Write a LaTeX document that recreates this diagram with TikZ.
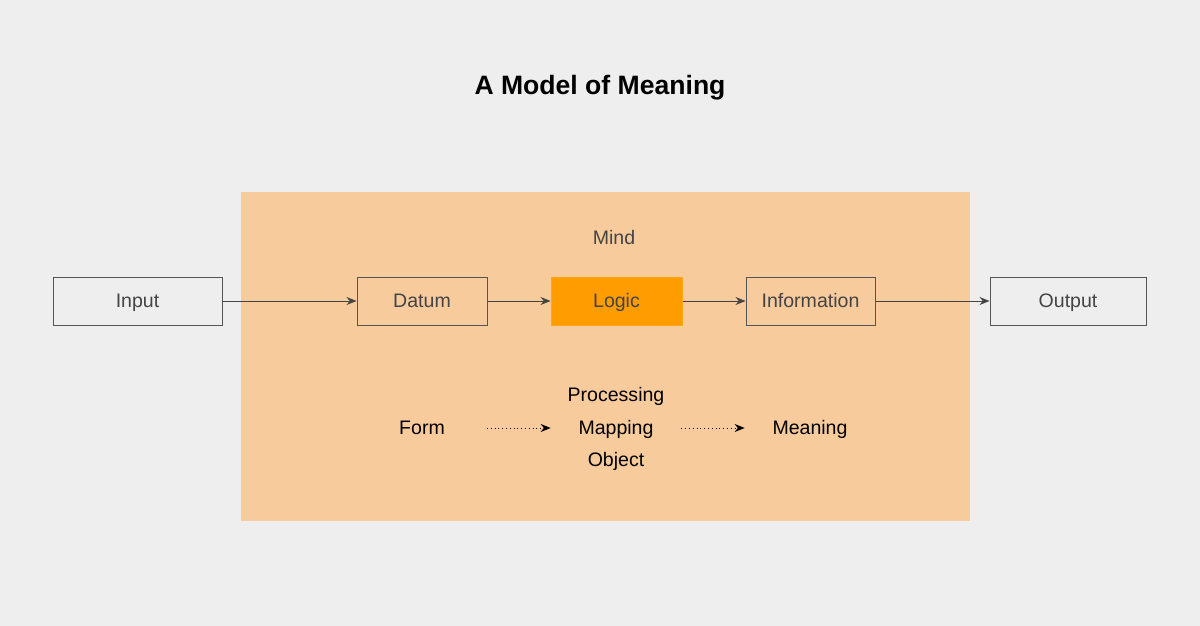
\documentclass[tikz,border=0pt]{standalone}
\usepackage{fontspec}
\setmainfont{Liberation Sans}
\usetikzlibrary{arrows.meta,positioning}
\definecolor{bgc}{HTML}{EEEEEE}
\definecolor{mindc}{HTML}{F8CB9D}
\definecolor{logicc}{HTML}{FF9C00}
\definecolor{linec}{HTML}{555555}
\definecolor{txtc}{HTML}{444444}
\newcommand{\lbl}{\fontsize{13.9}{16}\selectfont}
\begin{document}
\begin{tikzpicture}[>={Stealth[length=2.5mm,width=2mm]},font=\lbl]
\tikzstyle{b}=[draw=linec,line width=0.7pt,minimum height=1.2cm,text=txtc,inner sep=0pt,text height=0.9em,text depth=0pt]
\tikzstyle{w}=[inner sep=0pt,text=black,text height=0.9em,text depth=0pt]
\tikzstyle{flow}=[->,draw=txtc,line width=0.7pt]
\tikzstyle{dots}=[->,black,line width=0.7pt,dotted]
% background and the mind area
\fill[bgc] (0,0) rectangle (30,15.65);
\fill[mindc] (6.025,2.625) rectangle (24.25,10.85);
\node[font=\fontsize{18.9}{22}\selectfont\bfseries] (title) at (15,13.47) {A Model of Meaning};
\node[w,text=txtc] (mind) at (15.35,9.7) {Mind};
% the chain
\node[b,minimum width=4.225cm] (input) at (3.4375,8.125) {Input};
\node[b,minimum width=3.25cm] (datum) at (10.55,8.125) {Datum};
\node[b,draw=logicc!90!white,fill=logicc,minimum width=3.275cm] (logic) at (15.4125,8.125) {Logic};
\node[b,minimum width=3.225cm] (info) at (20.2625,8.125) {Information};
\node[b,minimum width=3.9cm] (output) at (26.7,8.125) {Output};
\draw[flow] (input) -- (datum);
\draw[flow] (datum) -- (logic);
\draw[flow] (logic) -- (info);
\draw[flow] (info) -- (output);
% form, mapping, meaning
\node[w] (form) at (10.55,4.95) {Form};
\node[w] (mapping) at (15.4,4.95) {Mapping};
\node[w] (proc) at (15.4,5.775) {Processing};
\node[w] (object) at (15.4,4.15) {Object};
\node[w] (meaning) at (20.25,4.95) {Meaning};
\draw[dots,shorten <=1.05cm,shorten >=0.69cm] (form) -- (mapping);
\draw[dots,shorten <=0.69cm,shorten >=0.69cm] (mapping) -- (meaning);
\end{tikzpicture}
\end{document}
